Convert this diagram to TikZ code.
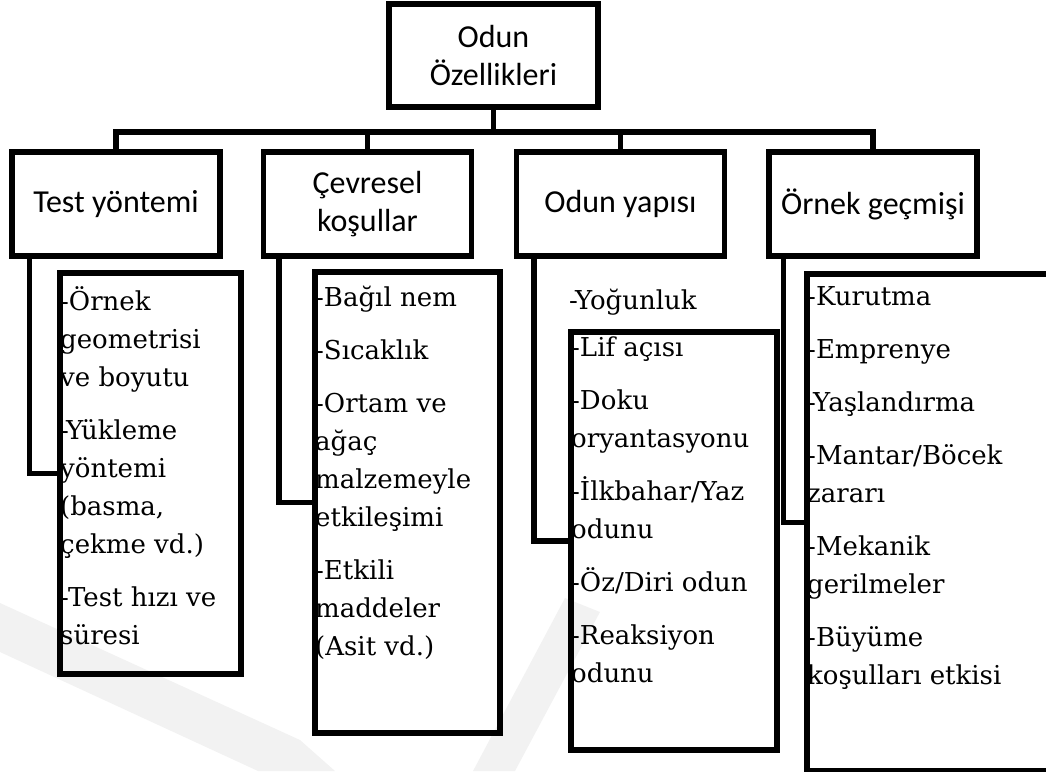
\documentclass[tikz,border=0pt]{standalone}
\usepackage{fontspec}
\setmainfont{DejaVu Serif}
\newfontfamily\headfont{Carlito}
\usetikzlibrary{positioning}
\tikzset{
headbox/.style = {draw, line width=5.5pt, minimum width=208pt, minimum height=104pt,
align=center, inner sep=0pt, font=\headfont\fontsize{32}{38}\selectfont},% kategori kutusu
listbox/.style = {draw, line width=5.5pt, anchor=north west, inner sep=0pt},% liste kutusu
listtext/.style = {anchor=north west, align=left, inner sep=0pt,
font=\fontsize{26}{38}\selectfont, execute at begin node=\strut},% liste metni
branch/.style = {line width=5.5pt},% baglanti
wmark/.style = {fill=black!5, draw=none}% filigran
}
\begin{document}
\begin{tikzpicture}[x=1pt,y=-1pt]
\useasboundingbox (0,0) rectangle (1046,771);
% filigran
\fill[wmark] (0,603) -- (300,740) -- (335,771) -- (258,771) -- (0,652) -- cycle;
\fill[wmark] (473,771) -- (515,771) -- (600,612) -- (565,598) -- cycle;
% ust duzey
\node [headbox, minimum width=209pt, minimum height=103pt] (root) at (493.5,55.5) {Odun\\Özellikleri};
\node [headbox] (test) at (116,204) {Test yöntemi};
\node [headbox] (cevre) at (367.5,204) {Çevresel\\koşullar};
\node [headbox] (yapi) at (620.5,204) {Odun yapısı};
\node [headbox] (gecmis) at (873,204) {Örnek geçmişi};
\foreach \n in {test,cevre,yapi,gecmis}
  \draw [branch] (root.south) -- ++(0,22) -| (\n.north);
% liste kutulari
\node [listbox, minimum width=181pt, minimum height=401pt] (testd) at (57,270) {};
\node [listbox, minimum width=185pt, minimum height=461pt] (cevred) at (312,269) {};
\node [listbox, minimum width=206pt, minimum height=418pt] (yapid) at (568,329) {};
\node [listbox, minimum width=256pt, minimum height=497pt] (gecmisd) at (804,271) {};
\draw [branch] ([xshift=20pt]test.south west) |- (testd.west);
\draw [branch] ([xshift=18pt]cevre.south west) |- (cevred.west);
\draw [branch] ([xshift=20pt]yapi.south west) |- (yapid.west);
\draw [branch] ([xshift=17pt]gecmis.south west) |- (gecmisd.west);
% liste metinleri
\node [listtext] (testl) at (60,286.4) {-Örnek\\geometrisi\\ve boyutu\\[15pt]-Yükleme\\yöntemi\\(basma,\\çekme vd.)\\[15pt]-Test hızı ve\\süresi};
\node [listtext] (cevrel) at (315,285.4) {-Bağıl nem\\[15pt]-Sıcaklık\\[15pt]-Ortam ve\\ağaç\\malzemeyle\\etkileşimi\\[15pt]-Etkili\\maddeler\\(Asit vd.)};
\node [listtext] (yogun) at (569,282.4) {-Yoğunluk};
\node [listtext] (yapil) at (571,336.4) {-Lif açısı\\[15pt]-Doku\\oryantasyonu\\[15pt]-İlkbahar/Yaz\\odunu\\[15pt]-Öz/Diri odun\\[15pt]-Reaksiyon\\odunu};
\node [listtext] (gecmisl) at (807,286.4) {-Kurutma\\[15pt]-Emprenye\\[15pt]-Yaşlandırma\\[15pt]-Mantar/Böcek\\zararı\\[15pt]-Mekanik\\gerilmeler\\[15pt]-Büyüme\\koşulları etkisi};
\end{tikzpicture}
\end{document}
